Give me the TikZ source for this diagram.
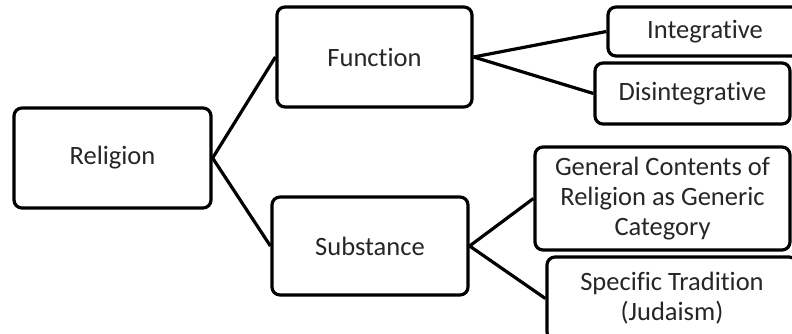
\documentclass[tikz,border=0pt]{standalone}
\usepackage{fontspec}
\setmainfont[Ligatures={NoCommon}]{Carlito}
\begin{document}
\begin{tikzpicture}[x=1pt,y=1pt,
  box/.style={draw=black, line width=3.2pt, rounded corners=8pt, fill=white,
    align=center, text=black!85, inner sep=0pt,
    font=\fontsize{26.5}{30}\selectfont},
  link/.style={draw=black, line width=3.2pt}]
\useasboundingbox (0,0) rectangle (792,333);
\clip (0,0) rectangle (792,333);
\node[box, minimum width=197pt, minimum height=100pt] (rel) at (112.5,175) {Religion};
\node[box, minimum width=195pt, minimum height=100pt] (fun) at (374.5,276) {Function};
\node[box, minimum width=196pt, minimum height=98pt] (sub) at (370,87) {Substance};
\node[box, minimum width=194pt, minimum height=49pt] (int) at (705,301.5) {Integrative};
\node[box, minimum width=195pt, minimum height=61pt] (dis) at (692.5,239.5) {Disintegrative};
\node[box, minimum width=255pt, minimum height=103pt] (gen) at (662.5,134.5) {General Contents of\\Religion as Generic\\Category};
\node[box, minimum width=250pt, minimum height=83pt] (spe) at (672,34.5) {Specific Tradition\\(Judaism)};
\draw[link] (rel.east) -- (fun.west);
\draw[link] (rel.east) -- (sub.west);
\draw[link] (fun.east) -- (int.west);
\draw[link] (fun.east) -- (dis.west);
\draw[link] (sub.east) -- (gen.west);
\draw[link] (sub.east) -- (spe.west);
\end{tikzpicture}
\end{document}
